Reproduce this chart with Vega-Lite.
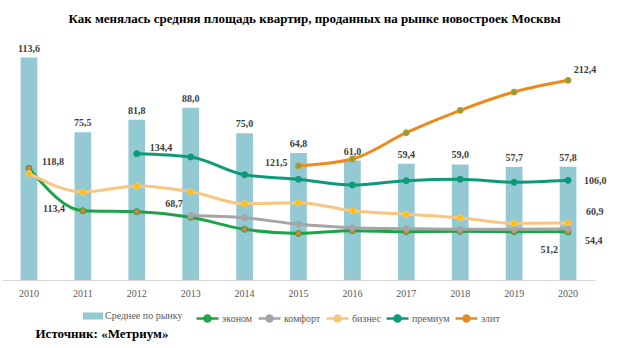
{
  "$schema": "https://vega.github.io/schema/vega-lite/v6.json",
  "width": 593,
  "height": 235,
  "autosize": {"type": "none"},
  "padding": {"left": 2, "top": 45, "right": 23, "bottom": 68},
  "background": "white",
  "config": {
    "view": {"stroke": null},
    "locale": {"number": {"decimal": ",", "thousands": " ", "grouping": [3], "currency": ["", ""]}},
    "font": "Liberation Serif"
  },
  "title": {
    "text": "Как менялась средняя площадь квартир, проданных на рынке новостроек  Москвы",
    "font": "Liberation Serif",
    "fontSize": 13,
    "fontWeight": "bold",
    "color": "#000000",
    "anchor": "middle",
    "dx": 16,
    "offset": 18
  },
  "datasets": {
    "bars": [
      {"year": "2010", "v": 113.6, "m": "Среднее по рынку"},
      {"year": "2011", "v": 75.5, "m": "Среднее по рынку"},
      {"year": "2012", "v": 81.8, "m": "Среднее по рынку"},
      {"year": "2013", "v": 88.0, "m": "Среднее по рынку"},
      {"year": "2014", "v": 75.0, "m": "Среднее по рынку"},
      {"year": "2015", "v": 64.8, "m": "Среднее по рынку"},
      {"year": "2016", "v": 61.0, "m": "Среднее по рынку"},
      {"year": "2017", "v": 59.4, "m": "Среднее по рынку"},
      {"year": "2018", "v": 59.0, "m": "Среднее по рынку"},
      {"year": "2019", "v": 57.7, "m": "Среднее по рынку"},
      {"year": "2020", "v": 57.8, "m": "Среднее по рынку"}
    ],
    "lines": [
      {"year": "2010", "series": "эконом", "v": 118.8},
      {"year": "2011", "series": "эконом", "v": 73.7},
      {"year": "2012", "series": "эконом", "v": 72.7},
      {"year": "2013", "series": "эконом", "v": 66.7},
      {"year": "2014", "series": "эконом", "v": 53.9},
      {"year": "2015", "series": "эконом", "v": 49.6},
      {"year": "2016", "series": "эконом", "v": 52.5},
      {"year": "2017", "series": "эконом", "v": 51.4},
      {"year": "2018", "series": "эконом", "v": 51.8},
      {"year": "2019", "series": "эконом", "v": 51.4},
      {"year": "2020", "series": "эконом", "v": 51.2},
      {"year": "2013", "series": "комфорт", "v": 68.7},
      {"year": "2014", "series": "комфорт", "v": 66.3},
      {"year": "2015", "series": "комфорт", "v": 59.2},
      {"year": "2016", "series": "комфорт", "v": 55.7},
      {"year": "2017", "series": "комфорт", "v": 54.6},
      {"year": "2018", "series": "комфорт", "v": 53.9},
      {"year": "2019", "series": "комфорт", "v": 53.9},
      {"year": "2020", "series": "комфорт", "v": 54.4},
      {"year": "2010", "series": "бизнес", "v": 113.4},
      {"year": "2011", "series": "бизнес", "v": 93.6},
      {"year": "2012", "series": "бизнес", "v": 100.0},
      {"year": "2013", "series": "бизнес", "v": 94.0},
      {"year": "2014", "series": "бизнес", "v": 81.2},
      {"year": "2015", "series": "бизнес", "v": 82.3},
      {"year": "2016", "series": "бизнес", "v": 73.7},
      {"year": "2017", "series": "бизнес", "v": 69.9},
      {"year": "2018", "series": "бизнес", "v": 66.3},
      {"year": "2019", "series": "бизнес", "v": 60.3},
      {"year": "2020", "series": "бизнес", "v": 60.9},
      {"year": "2012", "series": "премиум", "v": 134.4},
      {"year": "2013", "series": "премиум", "v": 130.9},
      {"year": "2014", "series": "премиум", "v": 112.0},
      {"year": "2015", "series": "премиум", "v": 107.1},
      {"year": "2016", "series": "премиум", "v": 101.0},
      {"year": "2017", "series": "премиум", "v": 105.7},
      {"year": "2018", "series": "премиум", "v": 107.1},
      {"year": "2019", "series": "премиум", "v": 103.9},
      {"year": "2020", "series": "премиум", "v": 106.0},
      {"year": "2015", "series": "элит", "v": 121.5},
      {"year": "2016", "series": "элит", "v": 128.7},
      {"year": "2017", "series": "элит", "v": 156.7},
      {"year": "2018", "series": "элит", "v": 180.5},
      {"year": "2019", "series": "элит", "v": 200.0},
      {"year": "2020", "series": "элит", "v": 212.4}
    ]
  },
  "encoding": {
    "x": {
      "field": "year",
      "type": "ordinal",
      "scale": {"type": "band", "paddingInner": 0.69, "paddingOuter": 0.345},
      "axis": {
        "title": "Источник: «Метриум»",
        "titleFont": "Liberation Serif",
        "titleFontSize": 13,
        "titleFontWeight": "bold",
        "titleColor": "#000000",
        "titleAnchor": "start",
        "titleAlign": "left",
        "titleBaseline": "middle",
        "titleX": 33,
        "titleY": 53,
        "labelAngle": 0,
        "labelFont": "Liberation Serif",
        "labelFontSize": 10,
        "labelColor": "#595959",
        "labelPadding": 8,
        "ticks": false,
        "domainColor": "#D9D9D9",
        "domainWidth": 1,
        "grid": false
      }
    }
  },
  "layer": [
    {
      "data": {"name": "bars"},
      "mark": {"type": "bar", "opacity": 1},
      "encoding": {
        "y": {"field": "v", "type": "quantitative", "scale": {"domain": [0, 120]}, "axis": null},
        "fill": {
          "field": "m",
          "type": "nominal",
          "scale": {"range": ["#93C9D3"]},
          "legend": {
            "title": null,
            "orient": "none",
            "legendX": 81,
            "legendY": 261,
            "direction": "horizontal",
            "padding": 0,
            "symbolType": "M-1,-0.35H1V0.35H-1Z",
            "symbolSize": 400,
            "symbolStrokeWidth": 0,
            "labelFont": "Liberation Serif",
            "labelFontSize": 10,
            "labelColor": "#595959",
            "labelOffset": 2
          }
        }
      }
    },
    {
      "data": {"name": "bars"},
      "mark": {"type": "text", "dy": -9, "font": "Liberation Serif", "fontSize": 10, "fontWeight": "bold", "color": "#404040"},
      "encoding": {
        "y": {"field": "v", "type": "quantitative", "scale": {"domain": [0, 120]}, "axis": null},
        "text": {"field": "v", "type": "quantitative", "format": ".1f"}
      }
    },
    {
      "data": {"name": "lines"},
      "mark": {"type": "line", "strokeWidth": 3, "interpolate": "monotone"},
      "encoding": {
        "y": {"field": "v", "type": "quantitative", "scale": {"domain": [0, 250]}, "axis": null},
        "stroke": {
          "field": "series",
          "type": "nominal",
          "scale": {
            "domain": ["эконом", "комфорт", "бизнес", "премиум", "элит"],
            "range": ["#1FA34A", "#A5A5A5", "#F8C67E", "#0C9A78", "#EC8A1E"]
          },
          "sort": ["эконом", "комфорт", "бизнес", "премиум", "элит"],
          "legend": {
            "title": null,
            "orient": "none",
            "legendX": 193,
            "legendY": 261,
            "direction": "horizontal",
            "padding": 0,
            "columnPadding": 0,
            "gridAlign": "none",
            "symbolType": "M-1,0H1M-0.28,0A0.28,0.28,0,1,0,0.28,0A0.28,0.28,0,1,0,-0.28,0Z",
            "symbolSize": 484,
            "symbolStrokeWidth": 2.5,
            "labelFont": "Liberation Serif",
            "labelFontSize": 10,
            "labelColor": "#595959",
            "labelOffset": 2,
            "encode": {"symbols": {"update": {"fill": {"scale": "color", "field": "value"}}}}
          }
        },
        "order": {"field": "year"}
      }
    },
    {
      "data": {"name": "lines"},
      "mark": {"type": "point", "filled": true, "size": 36, "strokeWidth": 1, "opacity": 1},
      "encoding": {
        "y": {"field": "v", "type": "quantitative", "scale": {"domain": [0, 250]}, "axis": null},
        "color": {
          "field": "series",
          "type": "nominal",
          "scale": {
            "domain": ["эконом", "комфорт", "бизнес", "премиум", "элит"],
            "range": ["#E0812F", "#A5A5A5", "#FFC000", "#0C9A78", "#7EA83A"]
          },
          "legend": null
        },
        "stroke": {"field": "series", "type": "nominal"}
      }
    },
    {
      "data": {"name": "lines"},
      "transform": [{"filter": "(datum.series == 'эконом' && datum.year == '2010') || (datum.series == 'премиум' && datum.year == '2012')"}],
      "mark": {"type": "text", "align": "left", "dx": 13, "dy": -6, "font": "Liberation Serif", "fontSize": 10, "fontWeight": "bold", "color": "#404040"},
      "encoding": {
        "y": {"field": "v", "type": "quantitative", "scale": {"domain": [0, 250]}, "axis": null},
        "text": {"field": "v", "type": "quantitative", "format": ".1f"}
      }
    },
    {
      "data": {"name": "lines"},
      "transform": [{"filter": "datum.series == 'бизнес' && datum.year == '2010'"}],
      "mark": {"type": "text", "align": "left", "dx": 14, "dy": 36, "font": "Liberation Serif", "fontSize": 10, "fontWeight": "bold", "color": "#404040"},
      "encoding": {
        "y": {"field": "v", "type": "quantitative", "scale": {"domain": [0, 250]}, "axis": null},
        "text": {"field": "v", "type": "quantitative", "format": ".1f"}
      }
    },
    {
      "data": {"name": "lines"},
      "transform": [{"filter": "datum.series == 'комфорт' && datum.year == '2013'"}],
      "mark": {"type": "text", "align": "right", "dx": -8, "dy": -11, "font": "Liberation Serif", "fontSize": 10, "fontWeight": "bold", "color": "#404040"},
      "encoding": {
        "y": {"field": "v", "type": "quantitative", "scale": {"domain": [0, 250]}, "axis": null},
        "text": {"field": "v", "type": "quantitative", "format": ".1f"}
      }
    },
    {
      "data": {"name": "lines"},
      "transform": [{"filter": "datum.series == 'элит' && datum.year == '2015'"}],
      "mark": {"type": "text", "align": "right", "dx": -11, "dy": -3, "font": "Liberation Serif", "fontSize": 10, "fontWeight": "bold", "color": "#404040"},
      "encoding": {
        "y": {"field": "v", "type": "quantitative", "scale": {"domain": [0, 250]}, "axis": null},
        "text": {"field": "v", "type": "quantitative", "format": ".1f"}
      }
    },
    {
      "data": {"name": "lines"},
      "transform": [{"filter": "datum.series == 'элит' && datum.year == '2020'"}],
      "mark": {"type": "text", "align": "center", "dx": 17, "dy": -10, "font": "Liberation Serif", "fontSize": 10, "fontWeight": "bold", "color": "#404040"},
      "encoding": {
        "y": {"field": "v", "type": "quantitative", "scale": {"domain": [0, 250]}, "axis": null},
        "text": {"field": "v", "type": "quantitative", "format": ".1f"}
      }
    },
    {
      "data": {"name": "lines"},
      "transform": [{"filter": "datum.series == 'премиум' && datum.year == '2020'"}],
      "mark": {"type": "text", "align": "left", "dx": 16, "dy": 1, "font": "Liberation Serif", "fontSize": 10, "fontWeight": "bold", "color": "#404040"},
      "encoding": {
        "y": {"field": "v", "type": "quantitative", "scale": {"domain": [0, 250]}, "axis": null},
        "text": {"field": "v", "type": "quantitative", "format": ".1f"}
      }
    },
    {
      "data": {"name": "lines"},
      "transform": [{"filter": "datum.series == 'бизнес' && datum.year == '2020'"}],
      "mark": {"type": "text", "align": "left", "dx": 18, "dy": -11, "font": "Liberation Serif", "fontSize": 10, "fontWeight": "bold", "color": "#404040"},
      "encoding": {
        "y": {"field": "v", "type": "quantitative", "scale": {"domain": [0, 250]}, "axis": null},
        "text": {"field": "v", "type": "quantitative", "format": ".1f"}
      }
    },
    {
      "data": {"name": "lines"},
      "transform": [{"filter": "datum.series == 'комфорт' && datum.year == '2020'"}],
      "mark": {"type": "text", "align": "left", "dx": 17, "dy": 12, "font": "Liberation Serif", "fontSize": 10, "fontWeight": "bold", "color": "#404040"},
      "encoding": {
        "y": {"field": "v", "type": "quantitative", "scale": {"domain": [0, 250]}, "axis": null},
        "text": {"field": "v", "type": "quantitative", "format": ".1f"}
      }
    },
    {
      "data": {"name": "lines"},
      "transform": [{"filter": "datum.series == 'эконом' && datum.year == '2020'"}],
      "mark": {"type": "text", "align": "right", "dx": -10, "dy": 18, "font": "Liberation Serif", "fontSize": 10, "fontWeight": "bold", "color": "#404040"},
      "encoding": {
        "y": {"field": "v", "type": "quantitative", "scale": {"domain": [0, 250]}, "axis": null},
        "text": {"field": "v", "type": "quantitative", "format": ".1f"}
      }
    }
  ],
  "resolve": {"scale": {"y": "independent"}}
}
